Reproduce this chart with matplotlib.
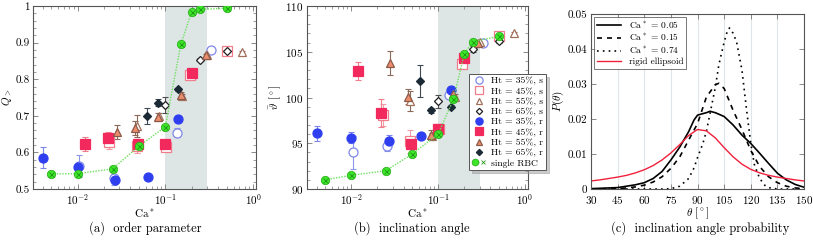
import matplotlib
matplotlib.use("Agg")
from matplotlib import pyplot as plt
from matplotlib.legend_handler import HandlerTuple
from matplotlib.ticker import MultipleLocator, FixedLocator, LogLocator, NullFormatter

plt.rcParams['font.family'] = 'cmr10'
plt.rcParams['mathtext.fontset'] = 'cm'
plt.rcParams['axes.formatter.use_mathtext'] = True
plt.rcParams['font.size'] = 8

# single RBC
ca_rbc = [0.005, 0.01, 0.025, 0.05, 0.1, 0.15, 0.2, 0.25, 0.5]
q_rbc = [0.541, 0.542, 0.555, 0.617, 0.670, 0.895, 0.985, 0.991, 0.994]
th_rbc = [91.0, 91.5, 92.0, 93.8, 96.0, 99.8, 104.8, 106.1, 106.7]

# suspensions (r = ..., s = ...)
ca_35r = [0.004, 0.01, 0.027, 0.063, 0.14]
q_35r = [0.586, 0.561, 0.525, 0.533, 0.692]
qe_35r = [0.03, 0.006, 0.006, 0.006, 0.008]
th_35r = [96.1, 95.6, 95.3, 95.8, 100.8]
the_35r = [0.8, 0.6, 0.6, 0.2, 0.2]

ca_35s = [0.0105, 0.026, 0.135, 0.33]
q_35s = [0.564, 0.531, 0.654, 0.881]
qe_35s = [0.03, 0.02, 0.012, 0.004]
th_35s = [94.0, 94.7, 100.3, 106.0]
the_35s = [1.8, 0.5, 0.2, 0.2]

ca_45r = [0.012, 0.022, 0.049, 0.1, 0.2]
q_45r = [0.623, 0.640, 0.623, 0.623, 0.817]
qe_45r = [0.02, 0.015, 0.008, 0.004, 0.004]
th_45r = [102.9, 98.3, 94.9, 96.6, 104.3]
the_45r = [1.0, 1.5, 0.3, 0.2, 0.2]

ca_45s = [0.023, 0.047, 0.102, 0.19, 0.5]
q_45s = [0.629, 0.617, 0.615, 0.811, 0.878]
qe_45s = [0.02, 0.02, 0.004, 0.004, 0.004]
th_45s = [98.1, 95.2, 96.6, 103.7, 106.7]
the_45s = [1.2, 1.3, 0.2, 0.2, 0.2]

ca_55r = [0.028, 0.045, 0.083, 0.15, 0.29]
q_55r = [0.656, 0.667, 0.697, 0.758, 0.866]
qe_55r = [0.02, 0.02, 0.01, 0.006, 0.004]
th_55r = [103.8, 100.1, 95.9, 100.4, 106.0]
the_55r = [1.3, 0.8, 0.5, 0.4, 0.2]

ca_55s = [0.048, 0.085, 0.155, 0.3, 0.74]
q_55s = [0.673, 0.700, 0.754, 0.867, 0.873]
qe_55s = [0.03, 0.008, 0.005, 0.004, 0.004]
th_55s = [99.6, 95.8, 100.1, 106.05, 107.0]
the_55s = [1.1, 0.3, 0.3, 0.2, 0.2]

ca_65r = [0.062, 0.083, 0.14]
q_65r = [0.700, 0.736, 0.773]
qe_65r = [0.022, 0.01, 0.004]
th_65r = [101.8, 98.6, 99.0]
the_65r = [1.7, 0.3, 0.2]

ca_65s = [0.1, 0.25, 0.5]
q_65s = [0.729, 0.853, 0.878]
qe_65s = [0.022, 0.004, 0.004]
th_65s = [99.6, 105.3, 106.2]
the_65s = [0.7, 0.3, 0.2]

# panel (c) probability curves
th_05 = [30, 45, 55, 60, 65, 70, 75, 80, 85, 88, 90, 92, 95, 97, 100, 105, 110, 115, 120, 125, 130, 135, 140, 145, 150]
p_05 = [0.0001, 0.0004, 0.0012, 0.0018, 0.003, 0.005, 0.0083, 0.012, 0.0164, 0.0197, 0.0211, 0.0214, 0.0218, 0.0222, 0.0218, 0.0207, 0.0183, 0.0154, 0.013, 0.0102, 0.0073, 0.0045, 0.0026, 0.0013, 0.0005]
th_15 = [30, 45, 50, 55, 60, 65, 70, 75, 80, 85, 90, 95, 100, 102, 105, 110, 115, 120, 125, 130, 135, 140, 145, 150]
p_15 = [0.0, 0.0001, 0.0003, 0.0006, 0.0011, 0.002, 0.0035, 0.0059, 0.0092, 0.014, 0.0187, 0.0263, 0.0298, 0.0302, 0.0287, 0.0225, 0.017, 0.011, 0.0064, 0.0035, 0.0018, 0.0008, 0.0003, 0.0001]
th_74 = [30, 70, 75, 80, 85, 88, 90, 93, 95, 98, 100, 102, 105, 107, 108, 110, 112, 115, 118, 120, 122, 125, 128, 130, 135, 150]
p_74 = [0.0, 0.0, 0.0001, 0.0008, 0.003, 0.006, 0.009, 0.013, 0.0165, 0.024, 0.029, 0.0355, 0.042, 0.0455, 0.046, 0.0445, 0.042, 0.034, 0.021, 0.013, 0.007, 0.003, 0.001, 0.0004, 0.0, 0.0]
th_rig = [30, 35, 40, 45, 50, 55, 60, 65, 70, 75, 80, 85, 90, 95, 100, 105, 110, 115, 120, 125, 130, 135, 140, 145, 150]
p_rig = [0.0023, 0.0026, 0.0030, 0.0034, 0.0039, 0.0046, 0.0055, 0.0067, 0.0083, 0.0103, 0.0127, 0.0153, 0.0170, 0.0166, 0.0146, 0.0118, 0.0092, 0.0071, 0.0056, 0.0046, 0.0039, 0.0034, 0.0030, 0.0026, 0.0023]

# marker styles per series: (x, q, qerr, th, therr, marker, face, edge, ms, label)
series = [
    (ca_35s, q_35s, qe_35s, th_35s, the_35s, 'o', 'white', '#7f88e8', 6.5, 'Ht = 35%, s'),
    (ca_45s, q_45s, qe_45s, th_45s, the_45s, 's', 'white', '#f07c8c', 6.5, 'Ht = 45%, s'),
    (ca_55s, q_55s, qe_55s, th_55s, the_55s, '^', 'white', '#a0705c', 5.5, 'Ht = 55%, s'),
    (ca_65s, q_65s, qe_65s, th_65s, the_65s, 'D', 'white', '#202020', 4.0, 'Ht = 65%, s'),
    (ca_35r, q_35r, qe_35r, th_35r, the_35r, 'o', '#2f3ff0', '#2f3ff0', 6.5, 'Ht = 35%, r'),
    (ca_45r, q_45r, qe_45r, th_45r, the_45r, 's', '#f2295c', '#f2295c', 6.5, 'Ht = 45%, r'),
    (ca_55r, q_55r, qe_55r, th_55r, the_55r, '^', '#ec8e6c', '#8c5a48', 5.5, 'Ht = 55%, r'),
    (ca_65r, q_65r, qe_65r, th_65r, the_65r, 'D', '#1c2a36', '#1c2a36', 4.0, 'Ht = 65%, r'),
]
ecol = {'#7f88e8': '#8c95e8', '#f07c8c': '#f29aa6', '#a0705c': '#8c6a5a', '#202020': '#505050',
        '#2f3ff0': '#7c86e8', '#f2295c': '#f07c8c', '#8c5a48': '#8c6a5a', '#1c2a36': '#404a55'}

fig = plt.figure(figsize=(8.13, 2.41), dpi=100)
axa = fig.add_axes([0.0406, 0.2158, 0.2743, 0.7592])
axb = fig.add_axes([0.3776, 0.2158, 0.2718, 0.7592])
axc = fig.add_axes([0.7270, 0.2158, 0.2620, 0.7262])


def style_ax(ax):
    for s in ax.spines.values():
        s.set_color('#555555')
        s.set_linewidth(0.8)
    ax.tick_params(which='both', direction='in', top=True, right=True, color='#777777')
    ax.tick_params(which='major', length=3.5, width=0.6, pad=2.5)
    ax.tick_params(which='minor', length=2, width=0.5)


handles = []
for ax, col in ((axa, 1), (axb, 3)):
    ax.axvspan(0.1, 0.3, color='#dde5e5', lw=0, zorder=0)
    for s in series:
        x, y, ye = s[0], s[col], s[col + 1]
        ax.errorbar(x, y, yerr=ye, fmt='none', ecolor=ecol[s[7]], elinewidth=0.8,
                    capsize=2.2, capthick=0.8, zorder=2)
    hs = []
    for s in series:
        x, y = s[0], s[col]
        h, = ax.plot(x, y, ls='none', marker=s[5], mfc=s[6], mec=s[7], ms=s[8],
                     mew=0.9, label=s[9], zorder=3)
        hs.append(h)
    yr = q_rbc if col == 1 else th_rbc
    h1, = ax.plot(ca_rbc, yr, ls=(0, (1, 1)), color='#6ee060', lw=1.0, marker='o',
                  mfc='#3ee62a', mec='#2cb01e', ms=6.0, mew=0.6, zorder=4)
    h2, = ax.plot(ca_rbc, yr, ls='none', marker='x', mec='#1f9a14', ms=3.6, mew=0.6, zorder=5)
    hs.append((h1, h2))
    handles = hs
    ax.set_xscale('log')
    ax.set_xlim(0.0031, 1.08)
    ax.xaxis.set_major_locator(LogLocator(base=10, numticks=10))
    ax.xaxis.set_minor_locator(LogLocator(base=10, subs=range(2, 10), numticks=20))
    ax.xaxis.set_minor_formatter(NullFormatter())
    ax.set_xlabel('Ca$^*$', labelpad=0)
    style_ax(ax)

axa.set_ylim(0.5, 1.0)
axa.yaxis.set_major_locator(FixedLocator([0.5, 0.6, 0.7, 0.8, 0.9, 1.0]))
axa.set_yticklabels(['0.5', '0.6', '0.7', '0.8', '0.9', '1'])
axa.yaxis.set_minor_locator(MultipleLocator(0.02))
axa.set_ylabel('$Q_>$', labelpad=1)

axb.set_ylim(90, 110)
axb.yaxis.set_major_locator(FixedLocator([90, 95, 100, 105, 110]))
axb.yaxis.set_minor_locator(MultipleLocator(1))
axb.set_ylabel(r'$\bar{\vartheta}$ $[^\circ]$', labelpad=1)

labels = [s[9] for s in series] + ['single RBC']
leg = axb.legend(handles, labels, loc='upper left', bbox_to_anchor=(469 / 813, 1 - 74 / 241),
                 bbox_transform=fig.transFigure, handler_map={tuple: HandlerTuple(ndivide=None, pad=0)},
                 frameon=True, fancybox=False, shadow={'color': '#999999', 'alpha': 0.5},
                 fontsize=6.9, markerscale=0.8, handlelength=1.5, handletextpad=0.5,
                 borderpad=0.3, labelspacing=0.16, borderaxespad=0)
leg.get_frame().set_edgecolor('#555555')
leg.get_frame().set_linewidth(0.7)
leg.set_zorder(10)

# panel (c)
axc.plot(th_05, p_05, color='black', lw=1.2, label='Ca$^*$ = 0.05')
axc.plot(th_15, p_15, color='black', lw=1.2, ls=(0, (3, 3)), label='Ca$^*$ = 0.15')
axc.plot(th_74, p_74, color='black', lw=1.2, ls=(0, (1, 2.5)), label='Ca$^*$ = 0.74')
axc.plot(th_rig, p_rig, color='#f0203c', lw=1.0, label='rigid ellipsoid')
axc.set_xlim(30, 150)
axc.set_ylim(0, 0.05)
axc.xaxis.set_major_locator(FixedLocator(list(range(30, 151, 15))))
axc.yaxis.set_major_locator(FixedLocator([0, 0.01, 0.02, 0.03, 0.04, 0.05]))
axc.set_yticklabels(['0', '0.01', '0.02', '0.03', '0.04', '0.05'])
axc.grid(axis='x', color='#dfe6ea', lw=0.8)
axc.set_axisbelow(True)
axc.set_xlabel(r'$\theta$ $[^\circ]$', labelpad=0)
axc.set_ylabel(r'$P(\theta)$', labelpad=1)
style_ax(axc)
axc.tick_params(axis='x', which='major', pad=3.5)
lc = axc.legend(loc='upper left', frameon=True, fancybox=False, fontsize=6.8, handlelength=2.6,
                borderpad=0.3, labelspacing=0.15, borderaxespad=0.3)
lc.get_frame().set_edgecolor('#555555')
lc.get_frame().set_linewidth(0.7)

fig.text(145 / 813, 1 - 228 / 241, '(a)  order parameter', ha='center', va='center', fontsize=9)
fig.text(412 / 813, 1 - 228 / 241, '(b)  inclination angle', ha='center', va='center', fontsize=9)
fig.text(700 / 813, 1 - 228 / 241, '(c)  inclination angle probability', ha='center', va='center', fontsize=9)

fig.savefig('out.png', dpi=100)
